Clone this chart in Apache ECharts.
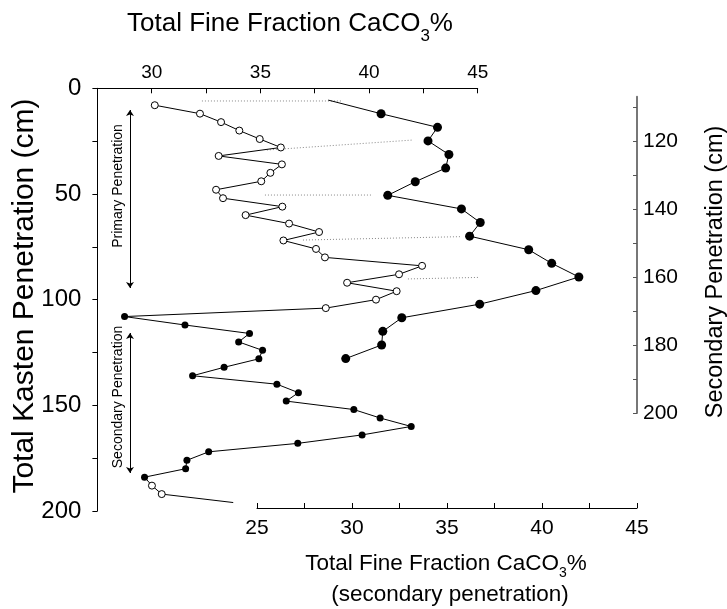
<!DOCTYPE html>
<html>
<head>
<meta charset="utf-8">
<script src="https://cdn.jsdelivr.net/npm/echarts@6/dist/echarts.min.js"></script>
<style>
  html, body { margin: 0; padding: 0; background: #fff; }
  #chart { width: 727px; height: 609px; }
</style>
</head>
<body>
<div id="chart"></div>
<script>
// total kasten depth (cm), one sample every 4 cm
var primaryDepth = [8, 12, 16, 20, 24, 28, 32, 36, 40, 44, 48, 52, 56, 60, 64, 68, 72, 76, 80, 84, 88, 92, 96, 100, 104];
var secondaryDepth = [108, 112, 116, 120, 124, 128, 132, 136, 140, 144, 148, 152, 156, 160, 164, 168, 172, 176, 180, 184];
var tailDepth = [188, 192, 196];

// fine fraction CaCO3 %
var primaryCaco3 = [30.14, 32.22, 33.19, 34.03, 34.97, 35.94, 33.08, 35.99, 35.46, 35.04, 32.96, 33.28, 36.01,
  34.32, 36.32, 37.70, 36.06, 37.56, 37.97, 42.44, 41.38, 38.99, 41.27, 40.32, 38.01];
var secondaryCaco3 = [28.75, 31.53, 34.50, 34.00, 35.10, 34.93, 33.33, 31.88, 35.76, 36.75, 36.19, 39.30, 40.51,
  41.94, 39.68, 36.72, 32.62, 31.62, 31.56, 29.67];
var tailCaco3 = [30.01, 30.46, 33.75];

// dotted tie lines, [CaCO3 %, total depth] pairs
var tieLines = [
  [[32.31, 6.0], [38.80, 6.0]],
  [[35.30, 29.2], [41.98, 24.5]],
  [[35.21, 50.5], [40.18, 50.5]],
  [[36.96, 71.8], [44.19, 70.2]],
  [[41.79, 90.2], [48.10, 88.8]]
];
var arrowX = 29.0;
var primaryArrow = [10.3, 94.5];
var secondaryArrow = [115.8, 182.0];

var rightTicks = [110, 120, 130, 140, 150, 160, 170, 180, 190, 200];
var rightLabels = [120, 140, 160, 180, 200];

var FONT = 'Liberation Sans, Arial, sans-serif';
var chart = echarts.init(document.getElementById('chart'));

function dot(v, d, kind, size) {
  if (kind === 'none') return { value: [v, d], symbol: 'none' };
  return {
    value: [v, d], symbol: 'circle', symbolSize: size,
    itemStyle: kind === 'open'
      ? { color: '#fff', borderColor: '#000', borderWidth: 1 }
      : { color: '#000', borderColor: '#000', borderWidth: 0 }
  };
}

var profile = [];
primaryCaco3.forEach(function (v, i) { profile.push(dot(v, primaryDepth[i], 'open', 7)); });
secondaryCaco3.forEach(function (v, i) { profile.push(dot(v, secondaryDepth[i], 'full', 7)); });
tailCaco3.forEach(function (v, i) { profile.push(dot(v, tailDepth[i], i < 2 ? 'open' : 'none', 7)); });

var secondary = secondaryCaco3.map(function (v, i) {
  return dot(v, secondaryDepth[i], i === 0 ? 'none' : 'full', 9);
});

// measure text so the subscript can sit right after the main words
var ctx = document.createElement('canvas').getContext('2d');
function textW(s, size) { ctx.font = size + 'px ' + FONT; return ctx.measureText(s).width; }

function caco3Title(cx, cy, size, subSize, subDy) {
  var a = 'Total Fine Fraction CaCO', b = '3', c = '%';
  var wa = textW(a, size), wb = textW(b, subSize), wc = textW(c, size);
  var x0 = cx - (wa + wb + wc) / 2;
  function t(s, x, y, fs) {
    return { type: 'text', x: x, y: y, style: { text: s, font: fs + 'px ' + FONT, fill: '#000', align: 'left', verticalAlign: 'middle' } };
  }
  return [t(a, x0, cy, size), t(b, x0 + wa, cy + subDy, subSize), t(c, x0 + wa + wb, cy, size)];
}

function vText(s, x, y, size) {
  return {
    type: 'text', x: x, y: y, rotation: Math.PI / 2,
    style: { text: s, font: size + 'px ' + FONT, fill: '#000', align: 'center', verticalAlign: 'middle' }
  };
}

var graphics = []
  .concat(caco3Title(290, 24, 26, 17, 12))
  .concat(caco3Title(446, 564, 22.5, 14, 9))
  .concat([
    { type: 'text', x: 450, y: 595, style: { text: '(secondary penetration)', font: '22.5px ' + FONT, fill: '#000', align: 'center', verticalAlign: 'middle' } },
    vText('Total Kasten Penetration (cm)', 25, 296, 30),
    vText('Secondary Penetration (cm)', 716, 272, 23.5),
    vText('Primary Penetration', 118, 186, 14),
    vText('Secondary Penetration', 118, 397, 14)
  ]);

var blackLine = { show: true, onZero: false, lineStyle: { color: '#000', width: 1 } };

var series = [
  {
    type: 'line', xAxisIndex: 0, yAxisIndex: 0, data: profile, z: 3,
    lineStyle: { color: '#000', width: 1 },
    markLine: {
      silent: true, symbol: ['arrow', 'arrow'], symbolSize: 6,
      lineStyle: { color: '#000', width: 1, type: 'solid' },
      label: { show: false },
      data: [
        [{ coord: [arrowX, primaryArrow[0]] }, { coord: [arrowX, primaryArrow[1]] }],
        [{ coord: [arrowX, secondaryArrow[0]] }, { coord: [arrowX, secondaryArrow[1]] }]
      ]
    }
  },
  {
    type: 'line', xAxisIndex: 1, yAxisIndex: 1, data: secondary, z: 3,
    lineStyle: { color: '#000', width: 1 }
  }
];
tieLines.forEach(function (seg) {
  series.push({
    type: 'line', xAxisIndex: 0, yAxisIndex: 0, data: seg, symbol: 'none', clip: false, z: 1,
    lineStyle: { color: '#888', width: 1, type: [1, 2] }
  });
});

chart.setOption({
  animation: false,
  backgroundColor: '#fff',
  grid: [
    { left: 97.4, top: 88.3, width: 380.3, height: 422.7, outerBoundsMode: 'none' },
    { left: 257, top: 96.7, width: 380, height: 316.3, outerBoundsMode: 'none' }
  ],
  xAxis: [
    {
      gridIndex: 0, type: 'value', position: 'top', min: 27.5, max: 45, interval: 2.5,
      axisLine: blackLine,
      axisTick: { inside: true, length: 5, lineStyle: { color: '#000' } },
      axisLabel: { fontSize: 19, fontFamily: FONT, color: '#000', margin: 6,
        formatter: function (v) { return v % 5 === 0 ? v : ''; } },
      splitLine: { show: false }
    },
    {
      gridIndex: 1, type: 'value', position: 'bottom', offset: 95, min: 25, max: 45, interval: 2.5,
      axisLine: blackLine,
      axisTick: { inside: true, length: 5, lineStyle: { color: '#000' } },
      axisLabel: { fontSize: 21, fontFamily: FONT, color: '#000', margin: 10,
        formatter: function (v) { return v % 5 === 0 ? v : ''; } },
      splitLine: { show: false }
    }
  ],
  yAxis: [
    {
      gridIndex: 0, type: 'value', position: 'left', inverse: true, min: 0, max: 200, interval: 25,
      axisLine: blackLine,
      axisTick: { inside: false, length: 5, lineStyle: { color: '#000' } },
      axisLabel: { fontSize: 24, fontFamily: FONT, color: '#000', margin: 16,
        formatter: function (v) { return v % 50 === 0 ? v : ''; } },
      splitLine: { show: false }
    },
    {
      gridIndex: 1, type: 'value', position: 'right', inverse: true, min: 107, max: 200,
      axisLine: { show: true, onZero: false, lineStyle: { color: '#777', width: 2 } },
      axisTick: { inside: true, length: 4, customValues: rightTicks, lineStyle: { color: '#555' } },
      axisLabel: { fontSize: 21, fontFamily: FONT, color: '#000', margin: 6, customValues: rightLabels },
      splitLine: { show: false }
    }
  ],
  graphic: graphics,
  series: series
});
</script>
</body>
</html>
